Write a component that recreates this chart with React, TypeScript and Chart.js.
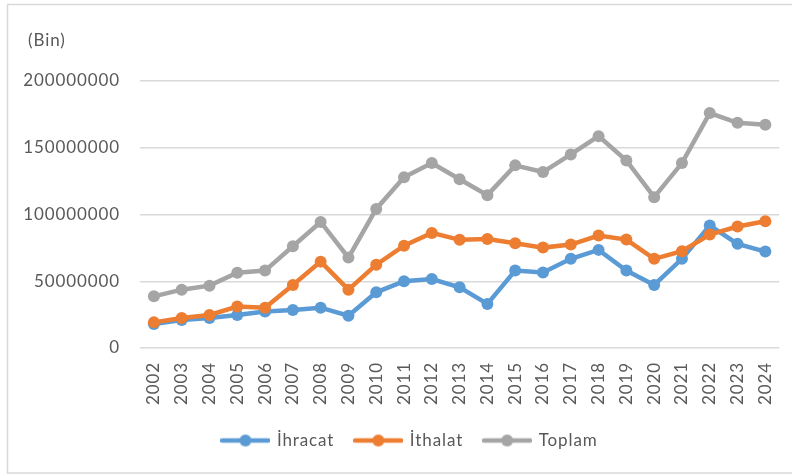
import React, { useEffect, useRef } from 'react';
import { Chart, registerables } from 'chart.js';

Chart.register(...registerables);

const years = ['2002','2003','2004','2005','2006','2007','2008','2009','2010','2011','2012','2013','2014','2015','2016','2017','2018','2019','2020','2021','2022','2023','2024'];
const ihracat = [18.0e6, 21.0e6, 22.5e6, 24.7e6, 27.4e6, 28.5e6, 30.2e6, 24.2e6, 41.7e6, 50.0e6, 51.7e6, 45.5e6, 33.0e6, 58.0e6, 56.6e6, 66.8e6, 73.5e6, 58.0e6, 47.2e6, 66.8e6, 91.7e6, 78.0e6, 72.2e6];
const ithalat = [19.2e6, 22.5e6, 24.7e6, 31.0e6, 30.2e6, 47.2e6, 64.7e6, 43.7e6, 62.4e6, 76.6e6, 86.2e6, 81.0e6, 81.7e6, 78.5e6, 75.2e6, 77.5e6, 84.2e6, 81.2e6, 66.8e6, 72.5e6, 85.0e6, 91.0e6, 94.9e6];
const toplam = [38.7e6, 43.7e6, 46.7e6, 56.4e6, 58.0e6, 76.2e6, 94.4e6, 67.7e6, 104.2e6, 127.9e6, 138.6e6, 126.4e6, 114.5e6, 136.8e6, 131.8e6, 145.0e6, 158.7e6, 140.5e6, 113.0e6, 138.5e6, 176.0e6, 168.7e6, 167.2e6];
const yTickValues = [0, 50000000, 100000000, 150000000, 200000000];
const seriesNames = ['İhracat', 'İthalat', 'Toplam'];
const seriesColors = ['#5B9BD5', '#ED7D31', '#A5A5A5'];
const unitLabel = '(Bin)';

const FONT = 'Lato';
const FONT_SIZE = 17;
const LS = '0.9px';
const TEXT_COLOR = '#595959';

function makeIcon(color: string): HTMLCanvasElement {
  const c = document.createElement('canvas');
  c.width = 50;
  c.height = 14;
  const ctx = c.getContext('2d')!;
  ctx.strokeStyle = color;
  ctx.lineWidth = 4.5;
  ctx.lineCap = 'round';
  ctx.beginPath();
  ctx.moveTo(2, 7);
  ctx.lineTo(48, 7);
  ctx.stroke();
  ctx.fillStyle = color;
  ctx.beginPath();
  ctx.arc(25, 7, 6, 0, Math.PI * 2);
  ctx.fill();
  return c;
}

const decorPlugin = {
  id: 'decor',
  beforeUpdate(chart: any) {
    chart.ctx.letterSpacing = LS;
  },
  beforeLayout(chart: any) {
    chart.ctx.letterSpacing = LS;
  },
  afterLayout(chart: any) {
    if (chart.legend) {
      chart.legend.left += 20;
      chart.legend.right += 20;
    }
  },
  beforeDraw(chart: any) {
    const ctx = chart.ctx;
    ctx.letterSpacing = LS;
    ctx.save();
    ctx.fillStyle = '#ffffff';
    ctx.fillRect(0, 0, chart.width, chart.height);
    ctx.strokeStyle = '#D9D9D9';
    ctx.lineWidth = 1.5;
    ctx.strokeRect(7.5, 4.5, 800, 468.5);
    ctx.restore();
  },
  afterDraw(chart: any) {
    const ctx = chart.ctx;
    ctx.save();
    ctx.letterSpacing = LS;
    ctx.font = `${FONT_SIZE}px ${FONT}`;
    ctx.fillStyle = TEXT_COLOR;
    ctx.textBaseline = 'middle';
    ctx.textAlign = 'left';
    ctx.fillText(unitLabel, 28, 41);
    ctx.restore();
  },
};

export default function App() {
  const ref = useRef<HTMLCanvasElement | null>(null);

  useEffect(() => {
    if (!ref.current) return;
    Chart.defaults.font.family = FONT;
    Chart.defaults.font.size = FONT_SIZE;
    Chart.defaults.color = TEXT_COLOR;

    const seriesData = [ihracat, ithalat, toplam];
    const icons = seriesColors.map((c) => makeIcon(c));

    const chart = new Chart(ref.current, {
      type: 'line',
      data: {
        labels: years,
        datasets: seriesNames.map((name, i) => ({
          label: name,
          data: seriesData[i],
          borderColor: seriesColors[i],
          backgroundColor: seriesColors[i],
          pointBackgroundColor: seriesColors[i],
          pointBorderColor: seriesColors[i],
          borderWidth: 4.5,
          pointRadius: 6,
          pointBorderWidth: 0,
          tension: 0,
          fill: false,
          order: 3 - i,
        })),
      },
      options: {
        responsive: false,
        animation: false,
        layout: {
          padding: { left: 0, right: 12, top: 81, bottom: 16 },
        },
        plugins: {
          tooltip: { enabled: false },
          legend: {
            display: true,
            position: 'bottom',
            labels: {
              usePointStyle: true,
              pointStyleWidth: 46,
              padding: 21,
              color: TEXT_COLOR,
              font: { family: FONT, size: FONT_SIZE },
              generateLabels: () =>
                seriesNames.map((name, i) => ({
                  text: name,
                  fillStyle: seriesColors[i],
                  strokeStyle: seriesColors[i],
                  lineWidth: 0,
                  pointStyle: icons[i] as any,
                  hidden: false,
                  datasetIndex: i,
                  fontColor: TEXT_COLOR,
                })),
            },
          },
        },
        scales: {
          x: {
            offset: true,
            grid: { display: false },
            border: { display: false },
            ticks: {
              minRotation: 90,
              maxRotation: 90,
              autoSkip: false,
              padding: 6,
              color: TEXT_COLOR,
              font: { family: FONT, size: FONT_SIZE },
            },
            afterFit: (scale: any) => {
              scale.height = 63;
            },
          },
          y: {
            min: 0,
            max: 200000000,
            afterBuildTicks: (scale: any) => {
              scale.ticks = yTickValues.map((v) => ({ value: v }));
            },
            grid: {
              color: '#D9D9D9',
              lineWidth: 1.5,
              drawTicks: false,
            },
            border: { display: false },
            ticks: {
              padding: 20,
              color: TEXT_COLOR,
              font: { family: FONT, size: FONT_SIZE },
              callback: (v: any) => String(v),
            },
            afterFit: (scale: any) => {
              scale.width = 140;
            },
          },
        },
      },
      plugins: [decorPlugin],
    });

    return () => chart.destroy();
  }, []);

  return (
    <div style={{ position: 'absolute', left: 0, top: 0, width: 792, height: 475, background: '#fff' }}>
      <canvas ref={ref} width={792} height={475} style={{ width: 792, height: 475, display: 'block' }} />
    </div>
  );
}
